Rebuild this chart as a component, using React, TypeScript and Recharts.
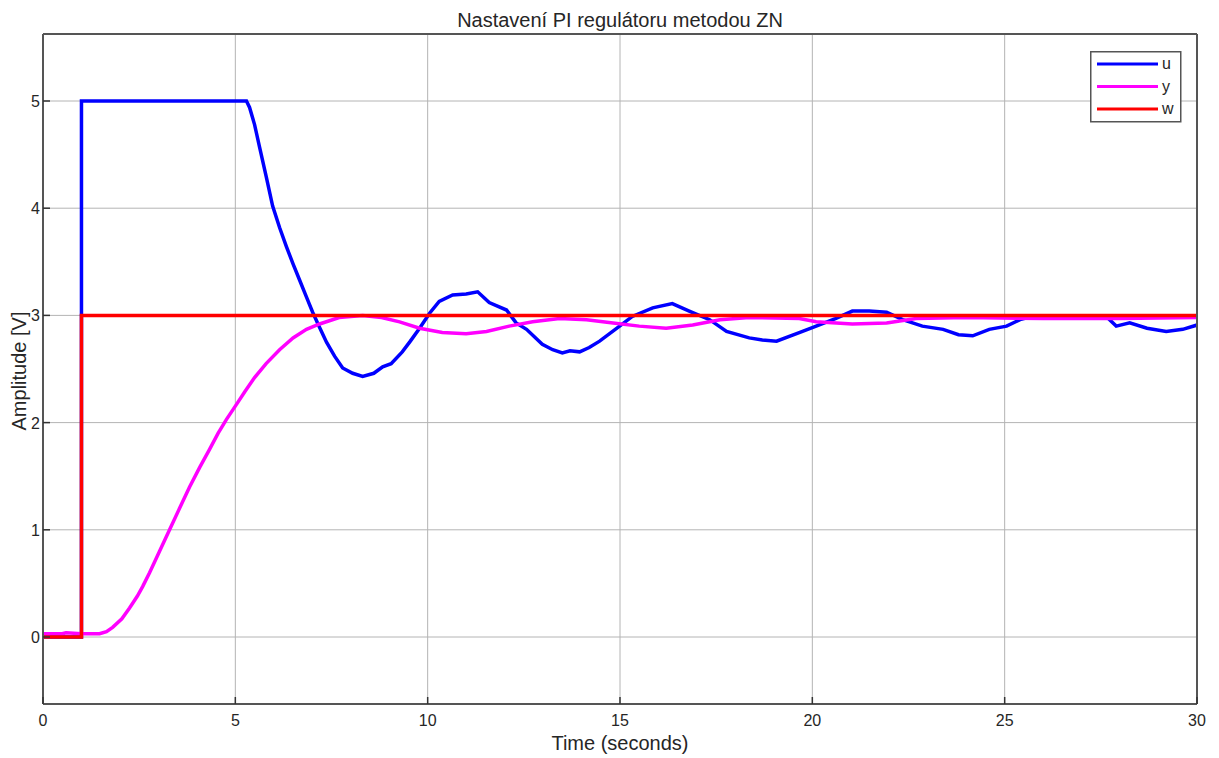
import { CartesianGrid, Line, LineChart, XAxis, YAxis } from "recharts";

// time [s], value [V] pairs
const uPoints = [
  [0, 0], [1, 0], [1, 5], [5.29, 5], [5.37, 4.94], [5.5, 4.78], [5.63, 4.57], [5.8, 4.3], [5.97, 4.02],
  [6.15, 3.82], [6.33, 3.64], [6.5, 3.48], [6.67, 3.33], [6.85, 3.17], [7.01, 3.03], [7.2, 2.88], [7.37, 2.75],
  [7.58, 2.62], [7.79, 2.51], [8.05, 2.46], [8.31, 2.43], [8.6, 2.46], [8.83, 2.52], [9.05, 2.55],
  [9.34, 2.66], [9.55, 2.76], [9.79, 2.88], [10.05, 3.02], [10.3, 3.13], [10.65, 3.19], [11.0, 3.2], [11.3, 3.22],
  [11.6, 3.12], [12.05, 3.05], [12.3, 2.93], [12.57, 2.87], [12.98, 2.73], [13.25, 2.68], [13.5, 2.65],
  [13.7, 2.67], [13.95, 2.66], [14.2, 2.7], [14.47, 2.76], [14.99, 2.9], [15.32, 2.99], [15.85, 3.07],
  [16.36, 3.11], [16.8, 3.04], [17.33, 2.96], [17.77, 2.85], [18.36, 2.79], [18.7, 2.77], [19.07, 2.76],
  [19.66, 2.84], [20.1, 2.9], [20.6, 2.97], [21.04, 3.04], [21.48, 3.04], [21.93, 3.03], [22.35, 2.96],
  [22.86, 2.9], [23.4, 2.87], [23.8, 2.82], [24.17, 2.81], [24.6, 2.87], [25.05, 2.9], [25.4, 2.96],
  [25.7, 2.99], [26.5, 2.98], [27.64, 2.99], [27.9, 2.9], [28.25, 2.93], [28.7, 2.88], [29.2, 2.85],
  [29.63, 2.87], [30, 2.91],
];

const yPoints = [
  [0, 0.03], [0.5, 0.03], [0.6, 0.04], [1, 0.03], [1.47, 0.03], [1.65, 0.05], [1.81, 0.09], [2.05, 0.17],
  [2.25, 0.27], [2.45, 0.38], [2.59, 0.47], [2.77, 0.6], [3.03, 0.8], [3.29, 1.0], [3.55, 1.2], [3.81, 1.4],
  [4.07, 1.58], [4.33, 1.75], [4.55, 1.9], [4.77, 2.03], [5.03, 2.17], [5.25, 2.29], [5.5, 2.42], [5.8, 2.55],
  [6.15, 2.68], [6.5, 2.79], [6.85, 2.87], [7.19, 2.92], [7.7, 2.98], [8.31, 3.0], [8.8, 2.98], [9.27, 2.94],
  [9.79, 2.88], [10.38, 2.84], [11.0, 2.83], [11.53, 2.85], [12.12, 2.9], [12.73, 2.94], [13.43, 2.97],
  [14.13, 2.96], [14.82, 2.93], [15.5, 2.9], [16.2, 2.88], [16.89, 2.91], [17.6, 2.96], [18.36, 2.98],
  [19.66, 2.97], [20.1, 2.94], [21.04, 2.92], [21.93, 2.93], [22.7, 2.97], [24, 2.98], [26, 2.97],
  [28, 2.97], [30, 2.98],
];

const wPoints = [[0, 0], [1, 0], [1, 3], [30, 3]];

const xTicks = [0, 5, 10, 15, 20, 25, 30];
const yTicks = [0, 1, 2, 3, 4, 5];

const series = [
  { name: "u", points: uPoints, color: "#0000ff", width: 3.5 },
  { name: "y", points: yPoints, color: "#ff00ff", width: 3.5 },
  { name: "w", points: wPoints, color: "#ff0000", width: 3.5 },
];

const FONT = '"Liberation Sans", Arial, sans-serif';
const TEXT = "#262626";
const AXIS = "#555555";

const toRows = (points: number[][]) => points.map(([t, v]) => ({ t, v }));

function BottomTick({ x, y, payload }: any) {
  return (
    <g>
      <line x1={x} y1={y} x2={x} y2={y - 7} stroke="#333" strokeWidth={1.5} />
      <text x={x} y={y + 22} textAnchor="middle" fill={TEXT} fontSize={16} fontFamily={FONT}>
        {payload.value}
      </text>
    </g>
  );
}

function TopTick({ x, y }: any) {
  return <line x1={x} y1={y} x2={x} y2={y + 7} stroke="#333" strokeWidth={1.5} />;
}

function LeftTick({ x, y, payload }: any) {
  return (
    <g>
      <line x1={x} y1={y} x2={x + 7} y2={y} stroke="#333" strokeWidth={1.5} />
      <text x={x - 3} y={y + 6} textAnchor="end" fill={TEXT} fontSize={16} fontFamily={FONT}>
        {payload.value}
      </text>
    </g>
  );
}

function RightTick({ x, y }: any) {
  return <line x1={x} y1={y} x2={x - 7} y2={y} stroke="#333" strokeWidth={1.5} />;
}

function ScopeLegend() {
  return (
    <svg width={92} height={72} style={{ position: "absolute", left: 1090, top: 51 }}>
      <rect x={0.75} y={0.75} width={90} height={70} fill="#fff" stroke={AXIS} strokeWidth={1.5} />
      {series.map((s, i) => (
        <g key={s.name}>
          <line x1={7} x2={68} y1={13 + i * 22.5} y2={13 + i * 22.5} stroke={s.color} strokeWidth={3} />
          <text x={72} y={13 + i * 22.5 + 5} fill={TEXT} fontSize={16} fontFamily={FONT}>
            {s.name}
          </text>
        </g>
      ))}
    </svg>
  );
}

export default function App() {
  return (
    <div style={{ position: "absolute", left: 0, top: 0, width: 1219, height: 758, background: "#fff", fontFamily: FONT }}>
      <LineChart width={1219} height={758} margin={{ top: 33, right: 21, bottom: 24, left: 3 }}>
        <CartesianGrid stroke="#b4b4b4" strokeWidth={1} />
        <XAxis
          type="number"
          dataKey="t"
          domain={[0, 30]}
          ticks={xTicks}
          height={30}
          tickSize={0}
          tickMargin={0}
          tickLine={false}
          axisLine={{ stroke: AXIS, strokeWidth: 2 }}
          tick={<BottomTick />}
          allowDataOverflow
        />
        <XAxis
          xAxisId="top"
          orientation="top"
          type="number"
          dataKey="t"
          domain={[0, 30]}
          ticks={xTicks}
          height={1}
          tickSize={0}
          tickMargin={0}
          tickLine={false}
          axisLine={{ stroke: AXIS, strokeWidth: 2 }}
          tick={<TopTick />}
        />
        <YAxis
          type="number"
          domain={[-0.625, 5.625]}
          ticks={yTicks}
          width={40}
          tickSize={0}
          tickMargin={0}
          tickLine={false}
          axisLine={{ stroke: AXIS, strokeWidth: 2 }}
          tick={<LeftTick />}
          allowDataOverflow
        />
        <YAxis
          yAxisId="right"
          orientation="right"
          type="number"
          domain={[-0.625, 5.625]}
          ticks={yTicks}
          width={1}
          tickSize={0}
          tickMargin={0}
          tickLine={false}
          axisLine={{ stroke: AXIS, strokeWidth: 2 }}
          tick={<RightTick />}
        />
        {series.map((s) => (
          <Line
            key={s.name}
            data={toRows(s.points)}
            dataKey="v"
            name={s.name}
            type="linear"
            stroke={s.color}
            strokeWidth={s.width}
            dot={false}
            activeDot={false}
            isAnimationActive={false}
          />
        ))}
      </LineChart>
      <div style={{ position: "absolute", left: 0, top: 10, width: 1240, textAlign: "center", fontSize: 20, lineHeight: "20px", color: TEXT }}>
        Nastavení PI regulátoru metodou ZN
      </div>
      <div style={{ position: "absolute", left: 0, top: 733, width: 1240, textAlign: "center", fontSize: 20, lineHeight: "20px", color: TEXT }}>
        Time (seconds)
      </div>
      <div
        style={{
          position: "absolute",
          left: -81,
          top: 361,
          width: 200,
          height: 20,
          textAlign: "center",
          fontSize: 20,
          lineHeight: "20px",
          color: TEXT,
          transform: "rotate(-90deg)",
        }}
      >
        Amplitude [V]
      </div>
      <ScopeLegend />
    </div>
  );
}
